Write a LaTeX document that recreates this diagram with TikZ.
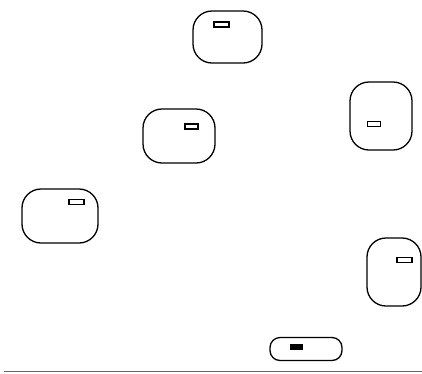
\documentclass[tikz,border=0pt]{standalone}
\usepackage{tikz}
\usetikzlibrary{
    positioning
}

\begin{document}
\begin{tikzpicture}[
    x=1pt, y=-1pt,
    pod/.style={draw, line width=1.3pt, rounded corners=19pt, inner sep=0pt},
    slot/.style={draw, line width=1.1pt, inner sep=0pt, minimum width=14pt, minimum height=5pt}
]

% Frame
\useasboundingbox (0,0) rectangle (422,373);

% Pods
\node[pod, minimum width=69pt, minimum height=52pt] (podA) at (227.5,37) {};
\node[pod, minimum width=62pt, minimum height=68pt] (podB) at (381,116) {};
\node[pod, minimum width=72pt, minimum height=54pt] (podC) at (179,136) {};
\node[pod, minimum width=76pt, minimum height=54pt] (podD) at (60,216) {};
\node[pod, minimum width=54pt, minimum height=68pt] (podE) at (394,272) {};
\node[pod, rounded corners=10pt, minimum width=72pt, minimum height=23pt] (podF) at (306,349) {};

% Slots
\node[slot, minimum width=15pt] (slotA) at (221.5,24.5) {};
\node[slot, minimum width=13pt] (slotB) at (374,124) {};
\node[slot, minimum width=13pt] (slotC) at (191.5,126.5) {};
\node[slot, minimum width=15pt] (slotD) at (76.5,202) {};
\node[slot, minimum width=15pt] (slotE) at (404.5,260) {};
\node[slot, fill=black, minimum width=12pt, minimum height=4pt] (slotF) at (296.5,347) {};

% Ground
\coordinate (groundL) at (4,371.5);
\coordinate (groundR) at (422,371.5);
\draw[line width=1.2pt, gray!80!black] (groundL) -- (groundR);

\end{tikzpicture}
\end{document}
